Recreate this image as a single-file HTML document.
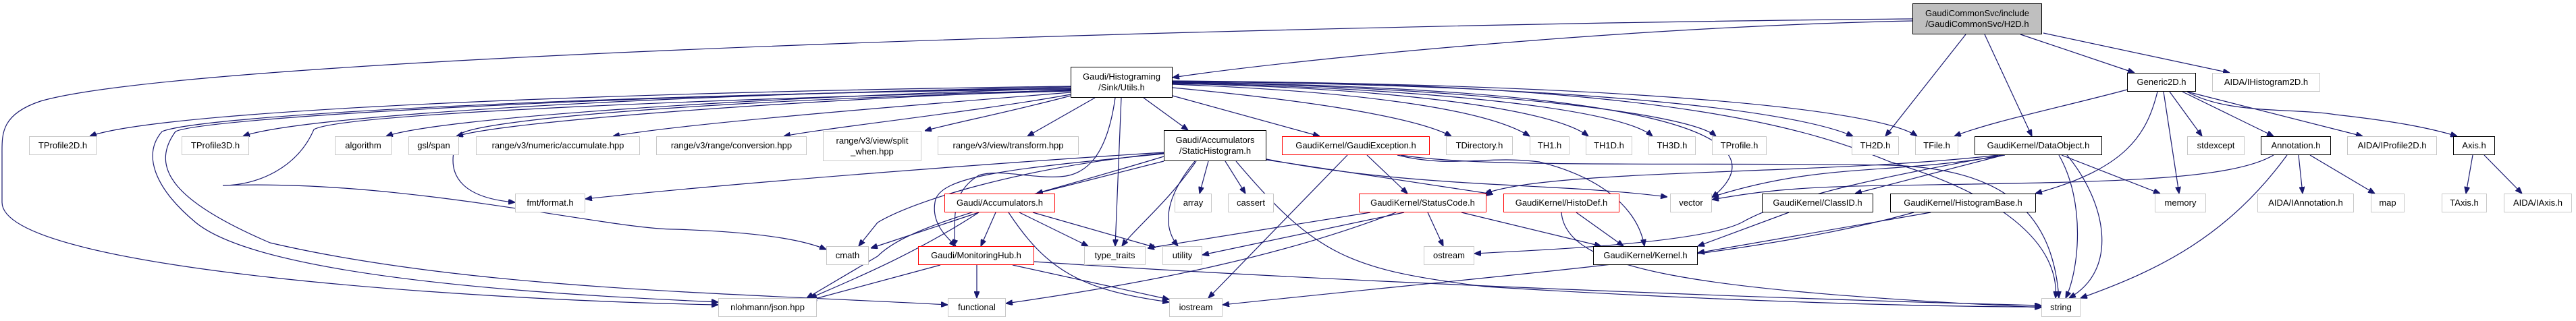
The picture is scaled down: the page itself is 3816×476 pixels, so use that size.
<!DOCTYPE html>
<html><head><meta charset="utf-8"><style>
body{margin:0;width:3816px;height:476px;background:#fff;position:relative;overflow:hidden;font-family:"Liberation Sans",sans-serif}
.n{position:absolute;box-sizing:border-box;border:1.5px solid #c8c8c8;background:#fff;font-size:13px;color:#000;display:flex;align-items:center;justify-content:center;text-align:center;line-height:16px;white-space:nowrap}
.b{border:1.5px solid #000}
.r{border:1.5px solid #ff0000}
.g{background:#bfbfbf;border:1.5px solid #000}
svg{position:absolute;left:0;top:0}
path{fill:none;stroke:#191970;stroke-width:1.2}
</style></head><body>
<svg width="3816" height="476" viewBox="0 0 3816 476">
<defs><marker id="a" markerWidth="10" markerHeight="8" refX="10" refY="4" orient="auto" markerUnits="userSpaceOnUse"><path d="M0,0 L10,4 L0,8z" style="fill:#191970;stroke:#191970"/></marker></defs>
<g marker-end="url(#a)">
<path d="M2833,31 C2400,40 1900,90 1737,115"/>
<path d="M2833,28 C2000,35 300,80 60,150 C0,170 3,200 3,230 L3,300 C3,400 700,445 1064,452"/>
<path d="M2912,51 L2793,202"/>
<path d="M2940,51 L3010,202"/>
<path d="M2993,51 L3162,108"/>
<path d="M3027,49 L3303,108"/>
<path d="M1586,128 C1000,135 250,160 133,202"/>
<path d="M1586,129 C1000,140 450,170 360,202"/>
<path d="M1586,131 C1100,145 650,175 572,202"/>
<path d="M1586,133 C1150,150 750,180 676,202"/>
<path d="M1586,137 C1300,160 1000,185 908,202"/>
<path d="M1586,140 C1450,165 1220,190 1161,202"/>
<path d="M1586,142 C1500,165 1400,185 1370,194"/>
<path d="M1622,145 L1522,202"/>
<path d="M1694,145 L1760,193"/>
<path d="M1737,142 L1955,202"/>
<path d="M1737,130 C1950,150 2100,175 2150,202"/>
<path d="M1737,125 C2000,135 2200,160 2266,202"/>
<path d="M1737,124 C2050,130 2300,160 2353,202"/>
<path d="M1737,123 C2100,130 2400,160 2448,202"/>
<path d="M1737,122 C2150,128 2500,165 2542,202"/>
<path d="M1737,121 C2300,125 2650,160 2745,202"/>
<path d="M1737,120 C2400,125 2780,160 2840,202"/>
<path d="M1737,122 C2450,130 2650,200 2536,293"/>
<path d="M1737,121 C2500,120 2700,200 2800,240 C3000,300 3050,380 3045,442"/>
<path d="M1586,135 C1000,150 700,180 680,200 C650,270 700,295 763,300"/>
<path d="M1586,134 C1000,148 500,170 465,192 C440,250 380,275 330,275 C600,265 900,340 1000,340 C1150,345 1200,360 1224,370"/>
<path d="M1586,132 C900,140 300,170 240,195 C210,230 230,280 290,330 C400,420 900,440 1064,448"/>
<path d="M1586,131 C900,140 300,175 260,195 C220,250 260,300 400,360 C700,430 1100,435 1404,452"/>
<path d="M1661,145 L1652,365"/>
<path d="M1652,145 C1640,230 1610,260 1570,262 C1530,265 1480,250 1450,260 C1400,290 1420,340 1412,365"/>
<path d="M1724,239 L1535,287"/>
<path d="M1790,239 L1777,287"/>
<path d="M1815,239 L1845,287"/>
<path d="M1772,239 C1730,300 1680,340 1662,365"/>
<path d="M1770,239 C1720,300 1725,340 1745,365"/>
<path d="M1831,239 C1950,380 2000,400 2200,425 C2600,450 2900,455 3024,455"/>
<path d="M1724,226 C1500,240 1100,270 867,295"/>
<path d="M1724,227 C1500,250 1350,300 1300,330 L1272,365"/>
<path d="M1724,228 C1500,250 1390,260 1385,300 C1380,330 1400,350 1416,365"/>
<path d="M1724,232 C1500,300 1350,330 1300,380 L1195,442"/>
<path d="M1876,236 C2100,280 2300,270 2470,292"/>
<path d="M1876,237 L2212,288"/>
<path d="M1450,315 L1290,368"/>
<path d="M1475,315 L1453,365"/>
<path d="M1510,315 L1612,365"/>
<path d="M1530,315 L1712,367"/>
<path d="M1494,315 C1550,400 1600,430 1732,448"/>
<path d="M1450,315 C1350,380 1250,420 1200,442"/>
<path d="M1447,393 L1447,442"/>
<path d="M1500,393 L1732,444"/>
<path d="M1532,388 C2000,420 2700,445 3024,453"/>
<path d="M1393,393 L1200,445"/>
<path d="M2025,230 L2085,287"/>
<path d="M1996,230 L1790,442"/>
<path d="M2070,230 C2150,250 2200,230 2280,240 C2400,270 2430,330 2436,365"/>
<path d="M2075,230 C2200,250 2500,240 2800,245 C2950,250 3040,300 3050,442"/>
<path d="M2080,315 L1781,378"/>
<path d="M2030,315 L1700,368"/>
<path d="M2115,315 L2138,365"/>
<path d="M2165,315 L2372,365"/>
<path d="M2068,315 C1900,380 1700,420 1490,450"/>
<path d="M2335,315 L2405,365"/>
<path d="M2313,315 C2320,400 2500,430 3024,456"/>
<path d="M2968,230 L2748,287"/>
<path d="M3054,230 L3200,287"/>
<path d="M3062,230 C3120,300 3140,400 3065,442"/>
<path d="M3050,230 C3090,300 3080,400 3060,442"/>
<path d="M2970,230 C2800,260 2700,240 2536,292"/>
<path d="M2960,230 C2700,260 2300,250 2200,287"/>
<path d="M2965,230 C2800,260 2650,290 2580,330 C2520,360 2300,370 2184,376"/>
<path d="M3151,133 C3050,160 2950,180 2895,202"/>
<path d="M3196,136 C3180,200 3150,250 3015,287"/>
<path d="M3205,136 L3228,287"/>
<path d="M3214,136 L3262,202"/>
<path d="M3233,136 L3368,202"/>
<path d="M3240,136 L3500,202"/>
<path d="M3240,136 C3300,170 3400,160 3460,170 C3550,180 3600,190 3640,202"/>
<path d="M3368,230 C3300,270 3100,270 2800,275 C2650,277 2600,285 2536,296"/>
<path d="M3405,230 L3411,287"/>
<path d="M3422,230 L3518,287"/>
<path d="M3388,230 C3300,350 3200,400 3082,442"/>
<path d="M3663,230 L3653,287"/>
<path d="M3680,230 L3736,287"/>
<path d="M2860,315 L2515,375"/>
<path d="M2835,315 C2600,380 2300,400 1811,452"/>
<path d="M2650,315 L2515,365"/>
</g></svg>

<div class="n g" style="left:2833px;top:5px;width:192px;height:46px">GaudiCommonSvc/include<br>/GaudiCommonSvc/H2D.h</div>
<div class="n b" style="left:1586px;top:99px;width:151px;height:46px">Gaudi/Histograming<br>/Sink/Utils.h</div>
<div class="n b" style="left:3151px;top:108px;width:102px;height:28px">Generic2D.h</div>
<div class="n" style="left:3277px;top:108px;width:160px;height:28px">AIDA/IHistogram2D.h</div>

<div class="n" style="left:43px;top:202px;width:100px;height:28px">TProfile2D.h</div>
<div class="n" style="left:269px;top:202px;width:100px;height:28px">TProfile3D.h</div>
<div class="n" style="left:496px;top:202px;width:84px;height:28px">algorithm</div>
<div class="n" style="left:605px;top:202px;width:75px;height:28px">gsl/span</div>
<div class="n" style="left:705px;top:202px;width:243px;height:28px">range/v3/numeric/accumulate.hpp</div>
<div class="n" style="left:972px;top:202px;width:223px;height:28px">range/v3/range/conversion.hpp</div>
<div class="n" style="left:1219px;top:194px;width:146px;height:45px">range/v3/view/split<br>_when.hpp</div>
<div class="n" style="left:1389px;top:202px;width:209px;height:28px">range/v3/view/transform.hpp</div>
<div class="n b" style="left:1724px;top:193px;width:152px;height:46px">Gaudi/Accumulators<br>/StaticHistogram.h</div>
<div class="n r" style="left:1899px;top:202px;width:219px;height:28px">GaudiKernel/GaudiException.h</div>
<div class="n" style="left:2142px;top:202px;width:99px;height:28px">TDirectory.h</div>
<div class="n" style="left:2266px;top:202px;width:59px;height:28px">TH1.h</div>
<div class="n" style="left:2349px;top:202px;width:69px;height:28px">TH1D.h</div>
<div class="n" style="left:2442px;top:202px;width:70px;height:28px">TH3D.h</div>
<div class="n" style="left:2536px;top:202px;width:81px;height:28px">TProfile.h</div>
<div class="n" style="left:2743px;top:202px;width:70px;height:28px">TH2D.h</div>
<div class="n" style="left:2837px;top:202px;width:64px;height:28px">TFile.h</div>
<div class="n b" style="left:2925px;top:202px;width:189px;height:28px">GaudiKernel/DataObject.h</div>
<div class="n" style="left:3240px;top:202px;width:85px;height:28px">stdexcept</div>
<div class="n b" style="left:3349px;top:202px;width:104px;height:28px">Annotation.h</div>
<div class="n" style="left:3477px;top:202px;width:133px;height:28px">AIDA/IProfile2D.h</div>
<div class="n b" style="left:3634px;top:202px;width:62px;height:28px">Axis.h</div>

<div class="n" style="left:763px;top:287px;width:104px;height:28px">fmt/format.h</div>
<div class="n r" style="left:1399px;top:287px;width:164px;height:28px">Gaudi/Accumulators.h</div>
<div class="n" style="left:1740px;top:287px;width:55px;height:28px">array</div>
<div class="n" style="left:1819px;top:287px;width:68px;height:28px">cassert</div>
<div class="n r" style="left:2013px;top:287px;width:189px;height:28px">GaudiKernel/StatusCode.h</div>
<div class="n r" style="left:2227px;top:287px;width:172px;height:28px">GaudiKernel/HistoDef.h</div>
<div class="n" style="left:2474px;top:287px;width:62px;height:28px">vector</div>
<div class="n b" style="left:2610px;top:287px;width:165px;height:28px">GaudiKernel/ClassID.h</div>
<div class="n b" style="left:2800px;top:287px;width:216px;height:28px">GaudiKernel/HistogramBase.h</div>
<div class="n" style="left:3192px;top:287px;width:76px;height:28px">memory</div>
<div class="n" style="left:3344px;top:287px;width:143px;height:28px">AIDA/IAnnotation.h</div>
<div class="n" style="left:3512px;top:287px;width:50px;height:28px">map</div>
<div class="n" style="left:3617px;top:287px;width:67px;height:28px">TAxis.h</div>
<div class="n" style="left:3709px;top:287px;width:101px;height:28px">AIDA/IAxis.h</div>

<div class="n" style="left:1224px;top:365px;width:63px;height:28px">cmath</div>
<div class="n r" style="left:1360px;top:365px;width:172px;height:28px">Gaudi/MonitoringHub.h</div>
<div class="n" style="left:1606px;top:365px;width:91px;height:28px">type_traits</div>
<div class="n" style="left:1722px;top:365px;width:59px;height:28px">utility</div>
<div class="n" style="left:2109px;top:365px;width:75px;height:28px">ostream</div>
<div class="n b" style="left:2360px;top:365px;width:155px;height:28px">GaudiKernel/Kernel.h</div>

<div class="n" style="left:1064px;top:442px;width:146px;height:28px">nlohmann/json.hpp</div>
<div class="n" style="left:1404px;top:442px;width:86px;height:28px">functional</div>
<div class="n" style="left:1732px;top:442px;width:79px;height:28px">iostream</div>
<div class="n" style="left:3024px;top:442px;width:58px;height:28px">string</div>
</body></html>
